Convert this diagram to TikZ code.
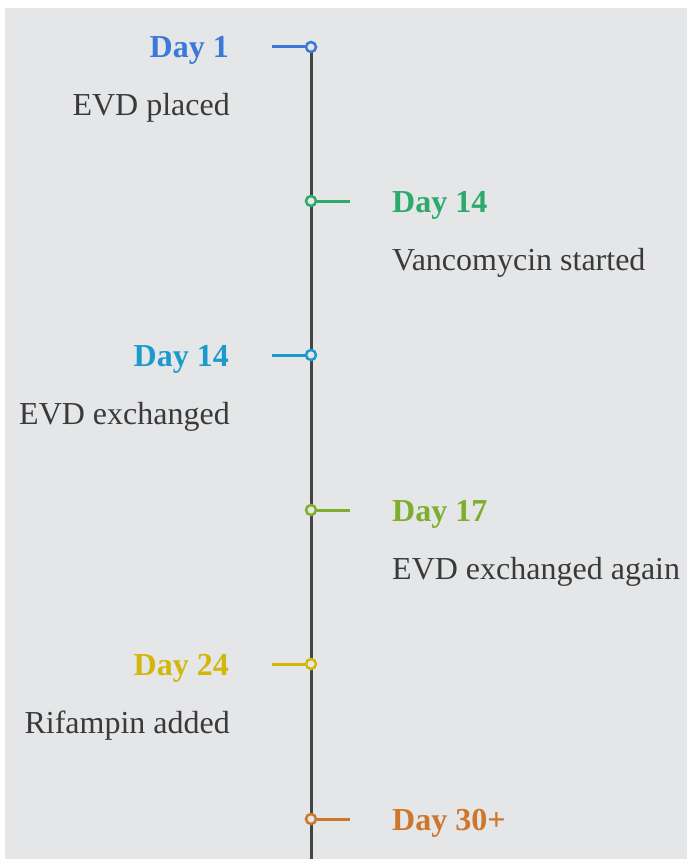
\documentclass[tikz,border=0pt]{standalone}
\usepackage{fontspec}
\setmainfont{Liberation Serif}
\definecolor{bg}{HTML}{E5E6E8}
\definecolor{axis}{HTML}{444444}
\definecolor{txt}{HTML}{3A3A3A}
\definecolor{cA}{HTML}{3C78D8}
\definecolor{cB}{HTML}{2BAA6B}
\definecolor{cC}{HTML}{1B9BCB}
\definecolor{cD}{HTML}{7FAE2F}
\definecolor{cE}{HTML}{D2B70A}
\definecolor{cF}{HTML}{CC772C}
\tikzset{
  dot/.style={circle,draw=#1,line width=2.5pt,fill=bg,minimum size=10pt,inner sep=0pt},
  tick/.style={draw=#1,line width=3pt},
  daylbl/.style={font=\fontsize{32}{38}\selectfont\bfseries,text=#1,inner sep=0pt},
  desc/.style={font=\fontsize{32}{38}\selectfont,text=txt,inner sep=0pt},
}
\begin{document}
\begin{tikzpicture}[x=1pt,y=-1pt]
\fill[white] (0,0) rectangle (687,859);
\fill[bg] (5,8) rectangle (687,859);
\useasboundingbox (0,0) rectangle (687,859);
\coordinate (top) at (311,47);
\coordinate (bot) at (311,859);
\draw[axis,line width=3pt] (top) -- (bot);
% event 1 (left)
\coordinate (t1) at (272,47);
\node[dot=cA] (d1) at (311,47) {};
\draw[tick=cA] (t1) -- (d1.west);
\node[daylbl=cA,anchor=base east] (l1) at (229,57) {Day 1};
\node[desc,anchor=base east] (e1) at (230,115) {EVD placed};
% event 2 (right)
\coordinate (t2) at (350,201);
\node[dot=cB] (d2) at (311,201) {};
\draw[tick=cB] (d2.east) -- (t2);
\node[daylbl=cB,anchor=base west] (l2) at (392,212) {Day 14};
\node[desc,anchor=base west] (e2) at (392,270) {Vancomycin started};
% event 3 (left)
\coordinate (t3) at (272,355);
\node[dot=cC] (d3) at (311,355) {};
\draw[tick=cC] (t3) -- (d3.west);
\node[daylbl=cC,anchor=base east] (l3) at (229,366) {Day 14};
\node[desc,anchor=base east] (e3) at (230,424) {EVD exchanged};
% event 4 (right)
\coordinate (t4) at (350,510);
\node[dot=cD] (d4) at (311,510) {};
\draw[tick=cD] (d4.east) -- (t4);
\node[daylbl=cD,anchor=base west] (l4) at (392,521) {Day 17};
\node[desc,anchor=base west] (e4) at (392,579) {EVD exchanged again};
% event 5 (left)
\coordinate (t5) at (272,664);
\node[dot=cE] (d5) at (311,664) {};
\draw[tick=cE] (t5) -- (d5.west);
\node[daylbl=cE,anchor=base east] (l5) at (229,675) {Day 24};
\node[desc,anchor=base east] (e5) at (230,733) {Rifampin added};
% event 6 (right)
\coordinate (t6) at (350,819);
\node[dot=cF] (d6) at (311,819) {};
\draw[tick=cF] (d6.east) -- (t6);
\node[daylbl=cF,anchor=base west] (l6) at (392,830) {Day 30+};
\end{tikzpicture}
\end{document}
